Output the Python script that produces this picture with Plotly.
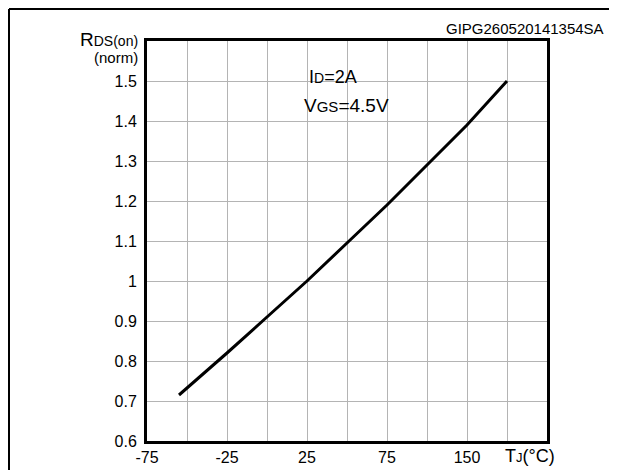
import plotly.graph_objects as go

# Data
temp_c = [-55, -25, 0, 25, 50, 75, 100, 125, 150]
rds_norm = [0.715, 0.82, 0.91, 1.0, 1.095, 1.19, 1.29, 1.39, 1.5]

x_grid = [-75, -50, -25, 0, 25, 50, 75, 100, 125, 150, 175]
x_labels = ["-75", "", "-25", "", "25", "", "75", "", "150", "", ""]
y_grid = [0.6, 0.7, 0.8, 0.9, 1.0, 1.1, 1.2, 1.3, 1.4, 1.5, 1.6]
y_labels = ["0.6", "0.7", "0.8", "0.9", "1", "1.1", "1.2", "1.3", "1.4", "1.5", ""]

FONT = "Liberation Sans, Arial, sans-serif"

# page body has an 8px margin; work in reference pixel coords and shift
OFF = 8
W, H = 617 - OFF, 470 - OFF
PL, PR, PT, PB = 147, 547, 41, 441  # plot area in reference pixels
L, T = PL - OFF, PT - OFF
R = W - (PR - OFF)
B = H - (PB - OFF)
pw, ph = PR - PL, PB - PT

def px(xp):
    return (xp - PL) / pw

def py(yp):
    return 1 - (yp - PT) / ph

fig = go.Figure()
fig.add_trace(go.Scatter(x=temp_c, y=rds_norm, mode="lines",
                         line=dict(color="black", width=3), showlegend=False,
                         hoverinfo="skip"))

frame = dict(color="black", width=2)
fx0, fx1, fy0, fy1 = px(9), px(610), py(470), py(9)

fig.update_layout(
    width=W, height=H,
    margin=dict(l=L, r=R, t=T, b=B, autoexpand=False),
    paper_bgcolor="white", plot_bgcolor="white",
    font=dict(family=FONT, color="black", size=15),
    xaxis=dict(range=[-75, 175], tickvals=x_grid, ticktext=x_labels,
               showgrid=True, gridcolor="#b4b4b4", gridwidth=1,
               showline=True, linecolor="black", linewidth=3, mirror=True,
               ticks="", zeroline=False, tickfont=dict(size=16, family=FONT),
               ticklabelstandoff=0, fixedrange=True),
    yaxis=dict(range=[0.6, 1.6], tickvals=y_grid, ticktext=y_labels,
               showgrid=True, gridcolor="#b4b4b4", gridwidth=1,
               showline=True, linecolor="black", linewidth=3, mirror=True,
               ticks="", zeroline=False, tickfont=dict(size=16, family=FONT),
               ticklabelstandoff=4, fixedrange=True),
    shapes=[
        dict(type="line", xref="paper", yref="paper", x0=fx0, x1=fx0, y0=fy0, y1=fy1, line=frame),
        dict(type="line", xref="paper", yref="paper", x0=fx1, x1=fx1, y0=fy0, y1=fy1, line=frame),
        dict(type="line", xref="paper", yref="paper", x0=fx0, x1=fx1, y0=fy1, y1=fy1, line=frame),
        dict(type="rect", xref="paper", yref="paper",
             x0=px(287), x1=px(400), y0=py(126), y1=py(55),
             line=dict(width=0), fillcolor="white", layer="between"),
    ],
    annotations=[
        dict(xref="paper", yref="paper", x=px(140), y=py(39), xanchor="right",
             yanchor="middle", showarrow=False,
             text="<span style='font-size:19px'>R</span><span style='font-size:14px'>DS(on)</span>"),
        dict(xref="paper", yref="paper", x=px(140), y=py(57), xanchor="right",
             yanchor="middle", showarrow=False, font=dict(size=15),
             text="(norm)"),
        dict(xref="paper", yref="paper", x=px(606), y=py(28), xanchor="right",
             yanchor="middle", showarrow=False, font=dict(size=15),
             text="GIPG260520141354SA"),
        dict(xref="paper", yref="paper", x=px(307), y=py(77), xanchor="left",
             yanchor="middle", showarrow=False,
             text="<span style='font-size:18px'>I</span><span style='font-size:14px'>D</span><span style='font-size:18px'>=2A</span>"),
        dict(xref="paper", yref="paper", x=px(302), y=py(106), xanchor="left",
             yanchor="middle", showarrow=False,
             text="<span style='font-size:19px'>V</span><span style='font-size:15px'>GS</span><span style='font-size:19px'>=4.5V</span>"),
        dict(xref="paper", yref="paper", x=px(503), y=py(456), xanchor="left",
             yanchor="middle", showarrow=False,
             text="<span style='font-size:18px'>T</span><span style='font-size:13px'>J</span><span style='font-size:18px'>(°C)</span>"),
    ],
)

fig.write_html("out.html")
